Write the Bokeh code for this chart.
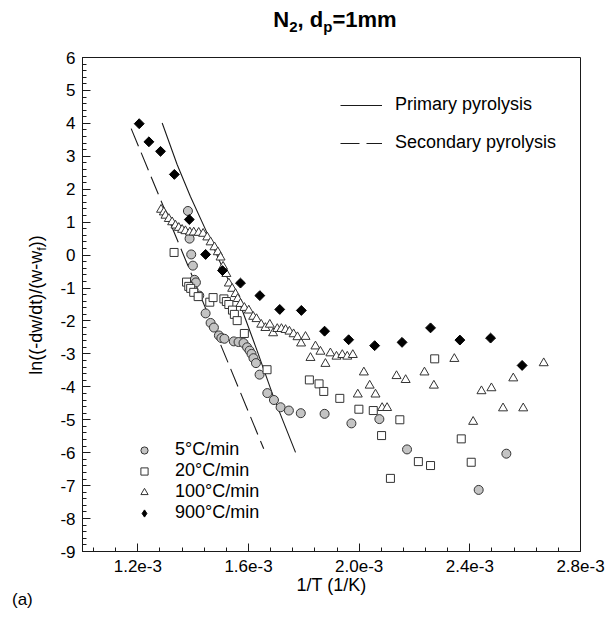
import numpy as np
from bokeh.plotting import figure
from bokeh.layouts import column, row
from bokeh.models import (Range1d, FixedTicker, CustomJSTickFormatter, Legend,
                          LegendItem, Div)
from bokeh.embed import file_html
from bokeh.resources import INLINE

# ---------------- data (x in units of 1e-3 1/K) ----------------
x5_e3 = [1.381, 1.387, 1.393, 1.399, 1.405, 1.410, 1.422, 1.445, 1.463, 1.475,
         1.493, 1.502, 1.513, 1.547, 1.564, 1.582, 1.595, 1.604, 1.611, 1.618,
         1.627, 1.640, 1.668, 1.692, 1.716, 1.746, 1.789, 1.875, 1.972, 2.073,
         2.173, 2.432, 2.532]
y5 = [1.34, 0.50, 0.02, -0.32, -0.75, -0.83, -1.23, -1.77, -2.06, -2.20,
      -2.44, -2.52, -2.54, -2.62, -2.64, -2.67, -2.80, -2.90, -3.00, -3.13,
      -3.28, -3.63, -4.19, -4.40, -4.62, -4.72, -4.80, -4.82, -5.11, -4.98,
      -5.90, -7.13, -6.03]

x20_e3 = [1.331, 1.376, 1.384, 1.391, 1.402, 1.418, 1.460, 1.472, 1.511, 1.520,
          1.529, 1.542, 1.549, 1.559, 1.585, 1.667, 1.820, 1.855, 1.872, 1.930,
          1.999, 2.051, 2.081, 2.113, 2.147, 2.214, 2.258, 2.273, 2.369, 2.405]
y20 = [0.08, -0.82, -0.95, -1.01, -1.13, -1.26, -1.43, -1.29, -1.33, -1.41,
       -1.50, -1.67, -1.80, -1.99, -2.38, -3.48, -3.79, -3.91, -4.14, -4.35,
       -4.68, -4.72, -5.48, -6.78, -5.00, -6.27, -6.39, -3.15, -5.58, -6.29]

x100_e3 = [1.284, 1.294, 1.300, 1.312, 1.324, 1.336, 1.348, 1.360, 1.372, 1.388,
           1.402, 1.420, 1.436, 1.451, 1.463, 1.477, 1.489, 1.499, 1.508, 1.520,
           1.529, 1.541, 1.553, 1.561, 1.571, 1.585, 1.601, 1.617, 1.629, 1.646,
           1.661, 1.677, 1.689, 1.704, 1.719, 1.734, 1.748, 1.763, 1.777, 1.790,
           1.806, 1.824, 1.842, 1.860, 1.878, 1.896, 1.918, 1.939, 1.957, 1.977,
           2.017, 2.038, 1.995, 2.059, 2.083, 2.101, 2.135, 2.168, 2.236, 2.270,
           2.344, 2.412, 2.442, 2.478, 2.520, 2.557, 2.593, 2.667]
y100 = [1.38, 1.30, 1.20, 1.10, 1.00, 0.90, 0.83, 0.77, 0.73, 0.69,
        0.69, 0.68, 0.65, 0.54, 0.39, 0.24, 0.09, -0.07, -0.35, -0.57,
        -0.86, -1.02, -1.18, -1.33, -1.48, -1.60, -1.68, -1.87, -1.94, -2.11,
        -2.21, -2.11, -2.37, -2.24, -2.24, -2.27, -2.32, -2.40, -2.49, -2.68,
        -2.48, -3.12, -2.77, -2.93, -3.30, -2.98, -3.08, -3.03, -3.08, -3.03,
        -3.56, -3.96, -4.23, -4.23, -4.64, -4.64, -3.67, -3.79, -3.56, -3.96,
        -3.15, -5.06, -4.13, -4.04, -4.65, -3.74, -4.65, -3.28]

x900_e3 = [1.205, 1.240, 1.282, 1.332, 1.386, 1.445, 1.506, 1.571, 1.641, 1.713,
           1.791, 1.875, 1.962, 2.056, 2.155, 2.258, 2.364, 2.475, 2.589]
y900 = [3.99, 3.44, 3.15, 2.45, 1.08, 0.02, -0.47, -0.85, -1.23, -1.65,
        -1.68, -2.31, -2.57, -2.75, -2.65, -2.21, -2.58, -2.52, -3.35]

xprim_e3 = [1.288, 1.342, 1.390, 1.451, 1.506, 1.571, 1.631, 1.691, 1.770]
yprim = [4.01, 2.75, 1.78, 0.66, -0.38, -1.53, -2.90, -4.32, -5.99]

xsec_e3 = [1.176, 1.655]
ysec = [3.84, -5.88]

x_ticks_e3 = [1.2, 1.6, 2.0, 2.4, 2.8]
y_ticks = list(range(-9, 7))

series_labels = ["5°C/min", "20°C/min", "100°C/min", "900°C/min"]
line_labels = ["Primary pyrolysis", "Secondary pyrolysis"]
xlabel = "1/T (1/K)"
panel_tag = "(a)"

# ---------------- layout constants ----------------
W, H = 608, 617
TOP_H = 40          # title strip height
LEFT_W = 48         # y-label strip width
FL, FR, FT, FB = 82, 580, 57, 551   # frame edges in page px
FONT = "Liberation Sans"
CSSFONT = "'Liberation Sans', Arial, Helvetica, sans-serif"

# ---------------- title (HTML with subscripts) ----------------
sub_t = "font-size:15px;line-height:0;vertical-align:-5px;"
title_html = (
    f'<div style="position:relative;width:{W}px;height:{TOP_H}px;">'
    f'<div style="position:absolute;left:0;top:9px;width:670px;'
    f'text-align:center;white-space:nowrap;font-family:{CSSFONT};'
    f'font-weight:bold;font-size:22px;line-height:22px;color:black;">'
    f'N<sub style="{sub_t}">2</sub>, d<sub style="{sub_t}">p</sub>=1mm'
    f'</div></div>')
title_div = Div(text=title_html, width=W, height=TOP_H, margin=0)

# ---------------- rotated y label + panel tag ----------------
LH = H - TOP_H
sub_y = "font-size:13px;line-height:0;vertical-align:-4px;"
left_html = (
    f'<div style="position:relative;width:{LEFT_W}px;height:{LH}px;">'
    f'<div style="position:absolute;left:36px;top:{305 - TOP_H}px;'
    f'transform:translate(-50%,-50%) rotate(-90deg);white-space:nowrap;'
    f'font-family:{CSSFONT};font-size:18px;line-height:18px;color:black;">'
    f'ln((-dw/dt)/(w-w<sub style="{sub_y}">f</sub>))</div>'
    f'<div style="position:absolute;left:12px;top:{606 - TOP_H - 15}px;'
    f'white-space:nowrap;font-family:{CSSFONT};font-size:17px;'
    f'line-height:17px;color:black;">{panel_tag}</div>'
    f'</div>')
left_div = Div(text=left_html, width=LEFT_W, height=LH, margin=0)

# ---------------- main plot ----------------
p = figure(width=W - LEFT_W, height=H - TOP_H, output_backend="svg",
           toolbar_location=None,
           x_range=Range1d(1.0e-3, 2.8e-3), y_range=Range1d(-9, 6),
           min_border_left=FL - LEFT_W, min_border_right=W - FR,
           min_border_top=FT - TOP_H, min_border_bottom=H - FB,
           background_fill_color="white", border_fill_color="white")
p.grid.visible = False
p.outline_line_color = "#1a1a1a"
p.outline_line_width = 1

for ax in (p.xaxis[0], p.yaxis[0]):
    ax.major_tick_in = 8
    ax.major_tick_out = 0
    ax.minor_tick_in = 4
    ax.minor_tick_out = 0
    ax.axis_line_color = "#1a1a1a"
    ax.major_tick_line_color = "#1a1a1a"
    ax.minor_tick_line_color = "#1a1a1a"
    ax.major_label_text_font = FONT
    ax.major_label_text_font_size = "17px"
    ax.major_label_text_color = "black"
    ax.axis_label_text_font = FONT
    ax.axis_label_text_font_style = "normal"
    ax.axis_label_text_color = "black"

p.xaxis.ticker = FixedTicker(
    ticks=[v * 1e-3 for v in x_ticks_e3],
    minor_ticks=[(1.04 + 0.08 * i) * 1e-3 for i in range(23)])
p.xaxis.formatter = CustomJSTickFormatter(
    code="return (tick*1000).toFixed(1) + 'e-3';")
p.xaxis.major_label_standoff = 8
p.xaxis.axis_label = xlabel
p.xaxis.axis_label_text_font_size = "18px"
p.xaxis.axis_label_standoff = 0

p.yaxis.ticker = FixedTicker(
    ticks=y_ticks, minor_ticks=[-9 + 0.2 * i for i in range(76)])
p.yaxis.formatter = CustomJSTickFormatter(code="return String(Math.round(tick));")
p.yaxis.major_label_standoff = 7

x5 = np.array(x5_e3) * 1e-3
x20 = np.array(x20_e3) * 1e-3
x100 = np.array(x100_e3) * 1e-3
x900 = np.array(x900_e3) * 1e-3
xprim = np.array(xprim_e3) * 1e-3
xsec = np.array(xsec_e3) * 1e-3

r_prim = p.line(xprim, yprim, line_color="#1a1a1a", line_width=1.1)
r_sec = p.line(xsec, ysec, line_color="#1a1a1a", line_width=1.1,
               line_dash="19 7")

OUT = "#333333"
r5 = p.scatter(x5, y5, marker="circle", size=9, fill_color="#c4c4c4",
               line_color=OUT, line_width=1)
r20 = p.scatter(x20, y20, marker="square", size=8, fill_color="white",
                line_color=OUT, line_width=1)
r100 = p.scatter(x100, y100, marker="triangle", size=9, fill_color="white",
                 line_color=OUT, line_width=1)
r900 = p.scatter(x900, y900, marker="square", angle=np.pi / 4, size=7,
                 fill_color="black", line_color="black", line_width=1)
# legend key for the diamond symbol (legend glyphs ignore rotation);
# it holds no visible point
r900_key = p.scatter(x=[np.nan], y=[np.nan], marker="diamond", size=12,
                     fill_color="black", line_color="black", line_width=1)

leg_lines = Legend(
    items=[LegendItem(label=line_labels[0], renderers=[r_prim]),
           LegendItem(label=line_labels[1], renderers=[r_sec])],
    location=(258, 398), orientation="vertical",
    glyph_width=42, glyph_height=20, label_height=20, spacing=17,
    label_standoff=13, padding=0, margin=0,
    border_line_color=None, background_fill_alpha=0,
    label_text_font=FONT, label_text_font_size="18px",
    label_text_color="black")
p.add_layout(leg_lines)

leg_mark = Legend(
    items=[LegendItem(label=series_labels[0], renderers=[r5]),
           LegendItem(label=series_labels[1], renderers=[r20]),
           LegendItem(label=series_labels[2], renderers=[r100]),
           LegendItem(label=series_labels[3], renderers=[r900_key])],
    location=(53, 28), orientation="vertical",
    glyph_width=18, glyph_height=20, label_height=20, spacing=0,
    label_standoff=22, padding=0, margin=0,
    border_line_color=None, background_fill_alpha=0,
    label_text_font=FONT, label_text_font_size="18px",
    label_text_color="black")
p.add_layout(leg_mark)

layout = column(title_div, row(left_div, p, spacing=0), spacing=0)

open("out.html", "w").write(file_html(layout, INLINE))
